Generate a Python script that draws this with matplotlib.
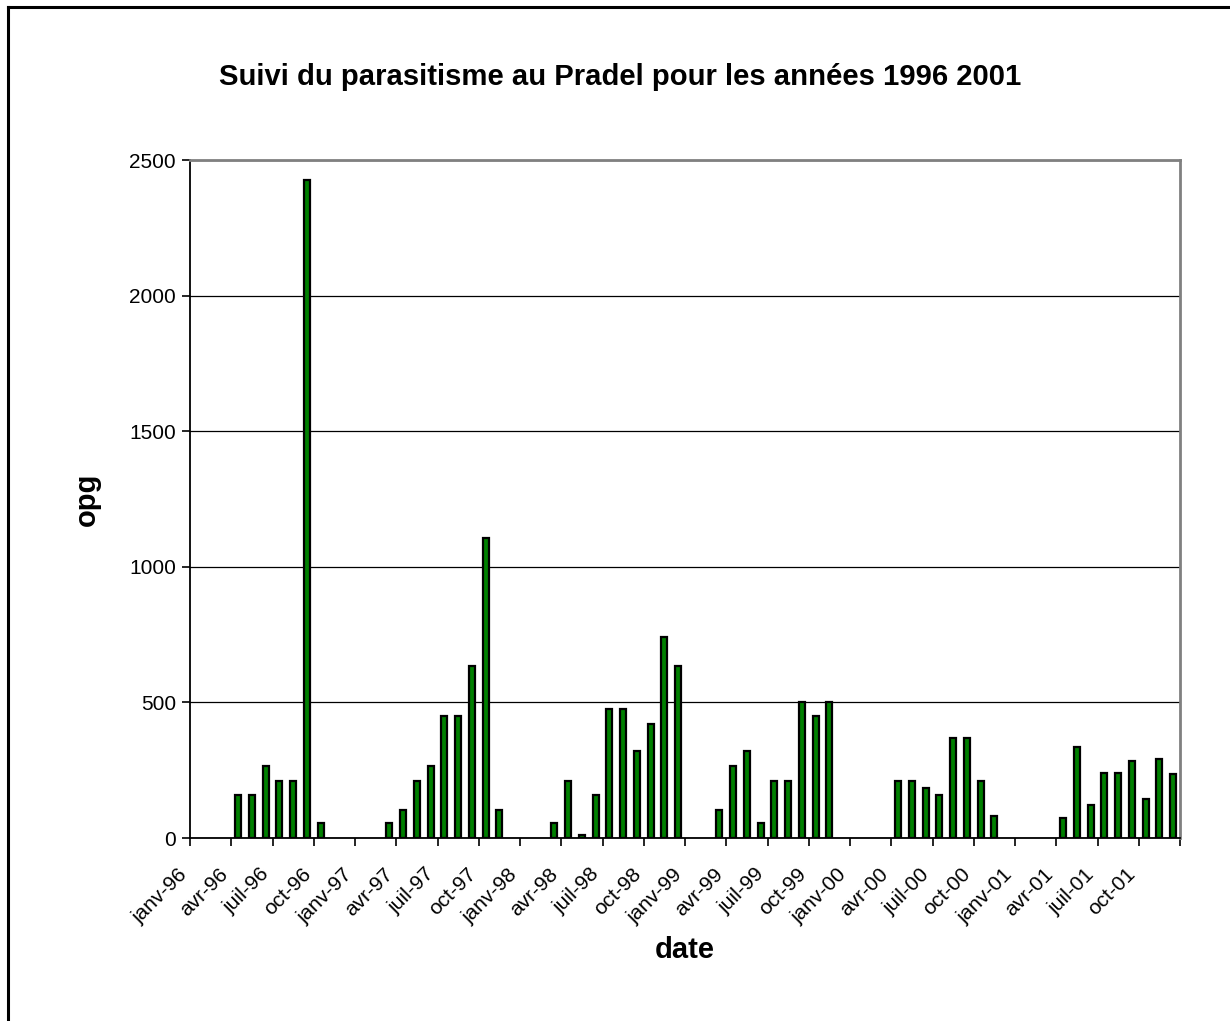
import numpy as np
import matplotlib.pyplot as plt
from matplotlib.lines import Line2D
from matplotlib.transforms import ScaledTranslation

plt.rcParams['font.family'] = ['Liberation Sans', 'DejaVu Sans']

# monthly egg counts (opg), one entry per sampled month
months_96 = ["1996-04", "1996-05", "1996-06", "1996-07", "1996-08", "1996-09", "1996-10"]
opg_96 = [160, 160, 265, 210, 210, 2425, 55]
months_97 = ["1997-03", "1997-04", "1997-05", "1997-06", "1997-07", "1997-08", "1997-09", "1997-10", "1997-11"]
opg_97 = [55, 105, 210, 265, 450, 450, 635, 1105, 105]
months_98 = ["1998-03", "1998-04", "1998-05", "1998-06", "1998-07", "1998-08", "1998-09", "1998-10", "1998-11", "1998-12"]
opg_98 = [55, 210, 10, 160, 475, 475, 320, 420, 740, 635]
months_99 = ["1999-03", "1999-04", "1999-05", "1999-06", "1999-07", "1999-08", "1999-09", "1999-10", "1999-11"]
opg_99 = [105, 265, 320, 55, 210, 210, 500, 450, 500]
months_00 = ["2000-04", "2000-05", "2000-06", "2000-07", "2000-08", "2000-09", "2000-10", "2000-11"]
opg_00 = [210, 210, 185, 160, 370, 370, 210, 80]
months_01 = ["2001-04", "2001-05", "2001-06", "2001-07", "2001-08", "2001-09", "2001-10", "2001-11", "2001-12"]
opg_01 = [75, 335, 120, 240, 240, 285, 145, 290, 235]

month_names = ["janv", "avr", "juil", "oct"]
years = ["96", "97", "98", "99", "00", "01"]

months = months_96 + months_97 + months_98 + months_99 + months_00 + months_01
opg = opg_96 + opg_97 + opg_98 + opg_99 + opg_00 + opg_01

# month index counted from janv-96, bar drawn in the middle of the month
idx = np.array([(int(m[:4]) - 1996) * 12 + int(m[5:]) - 1 for m in months])
xpos = idx + 0.5

fig = plt.figure(figsize=(12.3, 10.21), dpi=100)
ax = fig.add_axes([190/1230, 1 - 838/1021, 990/1230, 678/1021])

ax.bar(xpos, opg, width=0.42, color='#008000', edgecolor='black', linewidth=1.6, zorder=3)

ax.set_xlim(0, 72)
ax.set_ylim(0, 2500)
ax.set_yticks([0, 500, 1000, 1500, 2000, 2500])
ax.yaxis.grid(True, color='black', linewidth=0.9, zorder=0)

tick_pos = np.arange(0, 73, 3)
tick_lab = [m + "-" + y for y in years for m in month_names] + [""]
ax.set_xticks(tick_pos)
ax.set_xticklabels(tick_lab, rotation=45, ha='right', va='center', rotation_mode='anchor')

ax.tick_params(axis='both', labelsize=15, length=6, width=1.2, color='black')
ax.tick_params(axis='x', pad=18)
ax.tick_params(axis='y', pad=4)

# nudge the slanted labels a little to the left, as in the original
shift = ScaledTranslation(-6/100, 0, fig.dpi_scale_trans)
for lab in ax.get_xticklabels():
    lab.set_transform(lab.get_transform() + shift)

for s in ['top', 'right']:
    ax.spines[s].set_color('#808080')
    ax.spines[s].set_linewidth(2)
for s in ['left', 'bottom']:
    ax.spines[s].set_color('black')
    ax.spines[s].set_linewidth(1.3)

ax.set_xlabel('date', fontsize=21, fontweight='bold', va='center')
ax.set_ylabel('opg', fontsize=21, fontweight='bold', va='center')
ax.xaxis.set_label_coords(0.5, (838 - 950) / 678)
ax.yaxis.set_label_coords((87 - 190) / 990, 0.5)
fig.text(620/1230, 1 - 77/1021, 'Suivi du parasitisme au Pradel pour les ann\u00e9es 1996 2001',
         fontsize=21.1, fontweight='bold', ha='center', va='center')

# outer chart frame (cut at right and bottom edges)
fig.add_artist(Line2D([8/1230, 8/1230], [0, 1 - 7/1021], color='black', linewidth=2.2))
fig.add_artist(Line2D([8/1230, 1], [1 - 7/1021, 1 - 7/1021], color='black', linewidth=2.2))

fig.savefig('out.png', dpi=100)
